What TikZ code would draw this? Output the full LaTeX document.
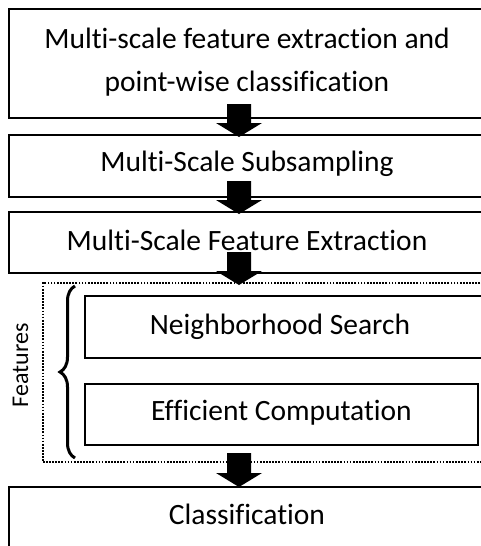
\documentclass[tikz,border=0pt]{standalone}
\usepackage{fontspec}
\setmainfont{Carlito}[Ligatures={NoCommon}]
\usetikzlibrary{calc,decorations.pathreplacing}
\begin{document}
\begin{tikzpicture}[x=1pt,y=-1pt,
  box/.style={draw,line width=2pt,rectangle,inner sep=0pt,anchor=north west,
    font=\fontsize{29.5}{43}\selectfont},
  blockarrow/.style={to path={let \p1=(\tikztostart),\p2=(\tikztotarget) in
    (\x1-12pt,\y1) -- (\x1+12pt,\y1) -- (\x1+12pt,\y2+14pt) -- (\x1+23pt,\y2+14pt)
    -- (\x1,\y2) -- (\x1-23pt,\y2+14pt) -- (\x1-12pt,\y2+14pt) -- cycle}},
  dotbox/.style={draw,line width=1.7pt,dash pattern=on 1.7pt off 1.4pt,rectangle,
    inner sep=0pt,anchor=north west}]
\useasboundingbox (0,0) rectangle (481,546);

\node[box,minimum width=476pt,minimum height=109pt,align=center,text height=82pt,text depth=27pt] (b1) at (8,8)
  {Multi-scale feature extraction and\\point-wise classification};
\node[box,minimum width=476pt,minimum height=62pt,text height=36pt,text depth=26pt] (b2) at (8,134)
  {Multi-Scale Subsampling};
\node[box,minimum width=476pt,minimum height=61pt,text height=38pt,text depth=23pt] (b3) at (8,211)
  {Multi-Scale Feature Extraction};
\node[dotbox,minimum width=450pt,minimum height=179pt] (feat) at (42,282) {};
\node[box,minimum width=400pt,minimum height=62pt,text height=38pt,text depth=24pt] (ns) at (84,295)
  {\hspace*{-10pt}Neighborhood Search};
\node[box,minimum width=393pt,minimum height=61pt,text height=36pt,text depth=25pt] (ec) at (84,383)
  {Efficient Computation};
\node[box,minimum width=476pt,minimum height=80pt,text height=37pt,text depth=43pt] (cl) at (8,486)
  {Classification};
\node[rotate=90,anchor=base,inner sep=0pt,font=\fontsize{24}{29}\selectfont] (flab) at (28,365.5) {Features};

\draw[line width=3pt,decorate,decoration={brace,amplitude=15pt}] (75,458) -- (75,286);

\coordinate (s1) at (239,104); \coordinate (t1) at (239,137);
\coordinate (s2) at (239,181); \coordinate (t2) at (239,214);
\coordinate (s3) at (239,252); \coordinate (t3) at (239,285);
\coordinate (s4) at (239,453); \coordinate (t4) at (239,487);
\path[fill=black] (s1) to[blockarrow] (t1);
\path[fill=black] (s2) to[blockarrow] (t2);
\path[fill=black] (s3) to[blockarrow] (t3);
\path[fill=black] (s4) to[blockarrow] (t4);
\end{tikzpicture}
\end{document}
